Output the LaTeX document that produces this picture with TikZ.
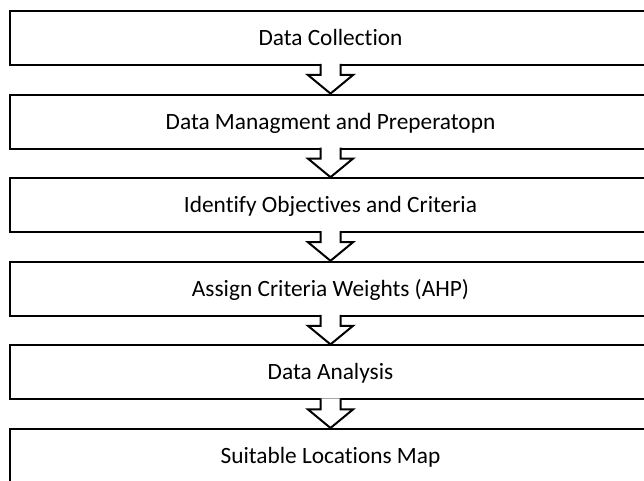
\documentclass[tikz,border=0pt]{standalone}
\usepackage{fontspec}
\setmainfont[Ligatures=NoCommon]{Carlito}
\usetikzlibrary{calc}
\tikzset{
  st/.style={draw, line width=1.5pt, fill=white, inner sep=0pt,
    minimum width=480.75pt, minimum height=40.5pt,
    text height=11.3pt, text depth=0pt, font=\fontsize{17.5}{21}\selectfont},
  % hollow block arrow between two stages
  blk/.style={draw, line width=1.5pt, fill=white, line join=miter, to path={
    let \p1=(\tikztostart), \p2=(\tikztotarget) in
    (\x1-7.5pt,\y1+1.5pt) -- (\x1-7.5pt,\y1-6.75pt) -- (\x1-16.9pt,\y1-6.75pt) -- (\x2,\y2)
    -- (\x1+16.9pt,\y1-6.75pt) -- (\x1+7.5pt,\y1-6.75pt) -- (\x1+7.5pt,\y1+1.5pt)}},
}
\begin{document}
\begin{tikzpicture}[x=0.75pt, y=-0.75pt]
\useasboundingbox (0,0) rectangle (644,481);
\clip (0,0) rectangle (644,481);

% ---- stages ----
\node[st] (coll) at (330.5,  38.0) {Data Collection};
\node[st] (prep) at (330.5, 121.6) {Data Managment and Preperatopn};
\node[st] (crit) at (330.5, 205.2) {Identify Objectives and Criteria};
\node[st] (wts)  at (330.5, 288.8) {Assign Criteria Weights (AHP)};
\node[st] (anal) at (330.5, 372.4) {Data Analysis};
\node[st] (map)  at (330.5, 456.0) {Suitable Locations Map};

% ---- arrows ----
\draw[blk] (coll.south) to (prep.north);
\draw[blk] (prep.south) to (crit.north);
\draw[blk] (crit.south) to (wts.north);
\draw[blk] (wts.south)  to (anal.north);
\draw[blk] (anal.south) to (map.north);
\end{tikzpicture}
\end{document}
